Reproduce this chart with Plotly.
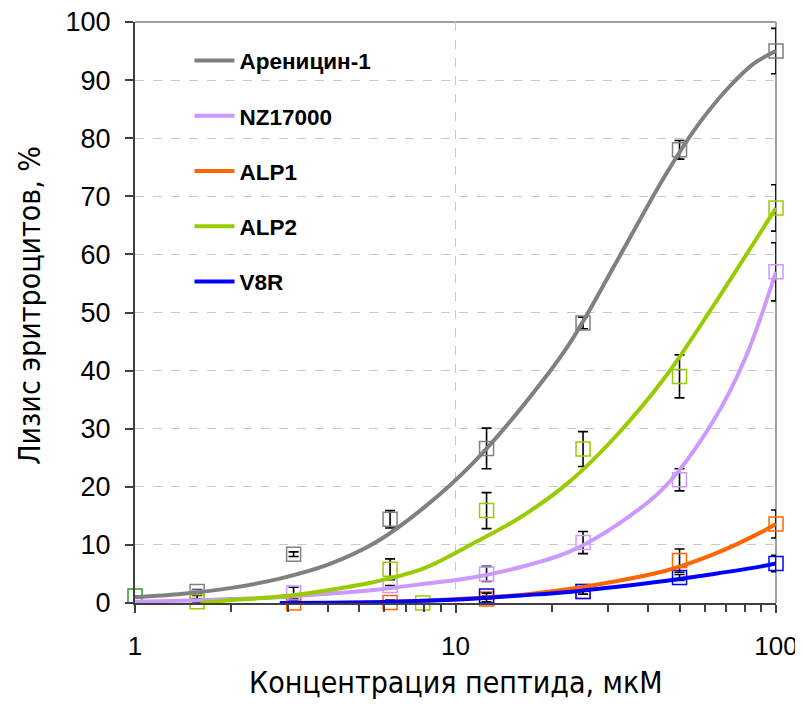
import plotly.graph_objects as go

# ---------------- data ----------------
series_names = ["Ареницин-1", "NZ17000", "ALP1", "ALP2", "V8R"]
line_colors = ["#808080", "#CC99FF", "#FF6600", "#99CC00", "#0000FF"]

# measured points (concentration, µM ; lysis, % ; error)
are_x = [1.5625, 3.125, 6.25, 12.5, 25, 50, 100]
are_y = [2.0, 8.4, 14.4, 26.6, 48.2, 78.0, 95.0]
are_e = [0.3, 0.4, 1.5, 3.5, 1.0, 1.6, 3.9]

nz_x = [1.5625, 3.125, 6.25, 12.5, 25, 50, 100]
nz_y = [1.0, 1.7, 3.0, 5.0, 10.4, 21.2, 57.0]
nz_e = [0.3, 1.0, 0.0, 1.3, 1.9, 1.9, 5.0]

alp1_x = [3.125, 6.25, 12.5, 25, 50, 100]
alp1_y = [0.0, 0.1, 0.7, 2.0, 7.3, 13.6]
alp1_e = [0.3, 0.4, 0.5, 0.5, 2.0, 2.4]

alp2_x = [1, 1.5625, 6.25, 7.9, 12.5, 25, 50, 100]
alp2_y = [1.2, 0.2, 5.8, 0.0, 15.9, 26.5, 39.0, 68.0]
alp2_e = [0.0, 0.0, 1.8, 0.3, 3.1, 3.0, 3.7, 4.0]
alp2_mcol = ["#339933", "#99CC00", "#99CC00", "#99CC00", "#99CC00", "#99CC00", "#99CC00", "#99CC00"]

v8r_x = [12.5, 25, 50, 100]
v8r_y = [1.2, 2.0, 4.4, 6.8]
v8r_e = [0.5, 0.5, 0.5, 1.4]

# fitted curves, values
are_cx = [1, 1.41, 2, 2.83, 4, 5.66, 8, 11.3, 16, 22.6, 32, 45, 56.6, 70, 85, 100]
are_cy = [1.0, 1.6, 2.6, 4.2, 6.6, 10.5, 16.5, 24.0, 33.5, 44.5, 59.0, 73.5, 82.0, 88.3, 92.8, 95.0]

nz_cx = [1, 1.41, 2, 2.83, 4, 5.66, 8, 11.3, 16, 22.6, 32, 45, 64, 80, 100]
nz_cy = [0.2, 0.4, 0.7, 1.0, 1.6, 2.3, 3.3, 4.4, 6.2, 8.8, 13.5, 20.0, 31.5, 42.0, 57.0]

alp1_cx = [4, 5.66, 8, 11.3, 16, 22.6, 32, 45, 64, 90, 100]
alp1_cy = [0.0, 0.15, 0.4, 0.8, 1.4, 2.4, 3.8, 5.5, 8.4, 12.2, 13.6]

alp2_cx = [1.6, 2, 2.83, 4, 5.66, 8, 11.3, 16, 22.6, 32, 45, 64, 100]
alp2_cy = [0.0, 0.5, 1.1, 2.2, 3.7, 6.0, 10.2, 14.8, 20.8, 29.0, 38.8, 51.3, 68.0]

v8r_cx = [2.83, 4, 5.66, 8, 11.3, 16, 22.6, 32, 45, 64, 90, 100]
v8r_cy = [0.0, 0.05, 0.15, 0.4, 0.75, 1.3, 1.9, 2.8, 3.8, 5.0, 6.3, 6.8]

x_tickvals = [1, 10, 100]
x_ticktext = ["1", "10", "100"]
x_minor_vals = [2, 3, 4, 5, 6, 7, 8, 9, 20, 30, 40, 50, 60, 70, 80, 90]
y_tickvals = [0, 10, 20, 30, 40, 50, 60, 70, 80, 90, 100]

x_title = "Концентрация пептида, мкМ"
y_title = "Лизис эритроцитов, %"

# ---------------- figure ----------------
points = [
    (are_x, are_y, are_e, line_colors[0]),
    (nz_x, nz_y, nz_e, line_colors[1]),
    (alp1_x, alp1_y, alp1_e, line_colors[2]),
    (alp2_x, alp2_y, alp2_e, alp2_mcol),
    (v8r_x, v8r_y, v8r_e, line_colors[4]),
]
curves = [
    (are_cx, are_cy), (nz_cx, nz_cy), (alp1_cx, alp1_cy), (alp2_cx, alp2_cy), (v8r_cx, v8r_cy)
]

fig = go.Figure()

for (px, py, pe, mc) in points:
    fig.add_trace(go.Scatter(
        x=px, y=py, mode="markers", showlegend=False, cliponaxis=False,
        marker=dict(symbol="square-open", size=14, color=mc, line=dict(width=1.5)),
        error_y=dict(type="data", array=pe, visible=True, color="#000000",
                     thickness=1.6, width=5),
        hoverinfo="skip",
    ))

for name, col, (cx, cy) in zip(series_names, line_colors, curves):
    fig.add_trace(go.Scatter(
        x=cx, y=cy, mode="lines", name=name, legendgroup=name,
        line=dict(color=col, width=4, shape="spline", smoothing=1.0),
        cliponaxis=False,
    ))

ytick_font = dict(family="Liberation Sans, Arial, sans-serif", size=27, color="#000000")
xtick_font = dict(family="Liberation Sans, Arial, sans-serif", size=26, color="#000000")
title_font = dict(family="Liberation Sans Narrow, DejaVu Sans Condensed, Arial Narrow, sans-serif",
                  size=30, color="#000000")

# the page body has an 8px margin: figure is 8px smaller each way
fig.update_layout(
    width=795, height=696,
    margin=dict(l=127, r=27, t=14, b=101, autoexpand=False),
    paper_bgcolor="#FFFFFF", plot_bgcolor="#FFFFFF",
    showlegend=True,
    legend=dict(
        x=0.085, y=0.970, xanchor="left", yanchor="top",
        bgcolor="rgba(0,0,0,0)", borderwidth=0,
        font=dict(family="Liberation Sans, Arial, sans-serif", size=22.5, color="#000000",
                  weight="bold"),
        tracegroupgap=23, itemwidth=40,
    ),
    xaxis=dict(
        type="log", range=[0, 2], automargin=False,
        tickvals=x_tickvals, ticktext=x_ticktext,
        ticks="outside", ticklen=8, tickwidth=2, tickcolor="#404040",
        showline=True, linecolor="#404040", linewidth=2,
        showgrid=True, gridcolor="#C8C8C8", griddash="dash", gridwidth=1,
        zeroline=False, tickfont=xtick_font, ticklabelstandoff=11,
        ticklabeloverflow="allow",
        minor=dict(tickvals=x_minor_vals, ticks="outside", ticklen=7, tickwidth=2,
                   tickcolor="#404040", showgrid=False),
    ),
    yaxis=dict(
        range=[0, 100], tickvals=y_tickvals, automargin=False,
        ticks="outside", ticklen=8, tickwidth=2, tickcolor="#404040",
        showline=True, linecolor="#404040", linewidth=2,
        showgrid=True, gridcolor="#C8C8C8", griddash="dash", gridwidth=1,
        zeroline=False, tickfont=ytick_font, ticklabelstandoff=9,
        ticklabeloverflow="allow",
    ),
    annotations=[
        dict(text=x_title, xref="paper", yref="paper", x=0.5, y=-0.136,
             xanchor="center", yanchor="middle", showarrow=False, font=title_font),
        dict(text=y_title, xref="paper", yref="paper", x=-0.164, y=0.513,
             xanchor="center", yanchor="middle", textangle=-90, showarrow=False,
             font=title_font),
    ],
    shapes=[
        dict(type="line", xref="paper", yref="paper", x0=0, x1=1, y0=1, y1=1,
             line=dict(color="#A0A0A0", width=2), layer="below"),
        dict(type="line", xref="paper", yref="paper", x0=1, x1=1, y0=0, y1=1,
             line=dict(color="#A0A0A0", width=2), layer="below"),
    ],
)

fig.write_html("out.html")
